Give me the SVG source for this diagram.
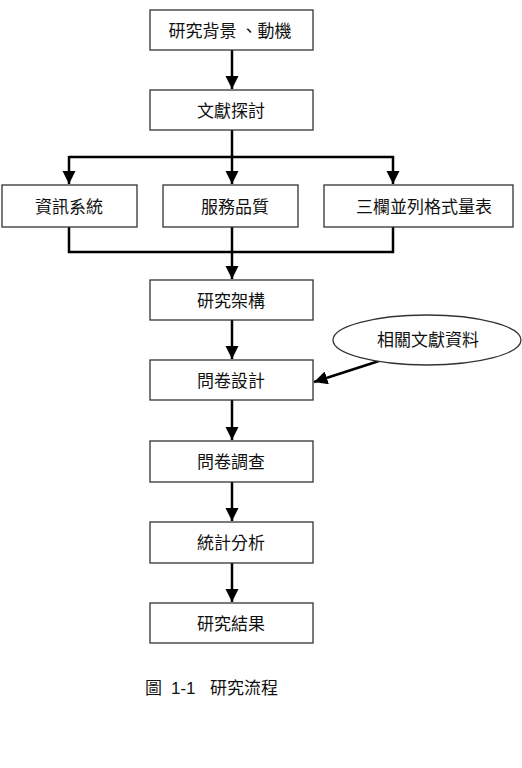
<svg xmlns="http://www.w3.org/2000/svg" width="522" height="768" viewBox="0 0 522 768">
<style>
.box{fill:#fff;stroke:#333;stroke-width:1.3}
.t{font-family:"Noto Sans CJK TC","Noto Sans CJK SC",sans-serif;font-size:17px;fill:#111;text-anchor:middle}
.ln{fill:none;stroke:#000;stroke-width:2.5}
</style>
<defs>
<marker id="ah" viewBox="0 0 10 10" refX="10" refY="5" markerWidth="5.4" markerHeight="5.4" markerUnits="strokeWidth" orient="auto">
<path d="M0,0 L10,5 L0,10 Z" fill="#000"/>
</marker>
</defs>
<rect width="522" height="768" fill="#fff"/>
<g id="connectors">
<line class="ln" x1="232" y1="50" x2="232" y2="89" marker-end="url(#ah)"/>
<line class="ln" x1="232" y1="130" x2="232" y2="157"/>
<polyline class="ln" points="69,157 393,157 393,184" marker-end="url(#ah)"/>
<line class="ln" x1="69" y1="156" x2="69" y2="184" marker-end="url(#ah)"/>
<line class="ln" x1="232" y1="157" x2="232" y2="184" marker-end="url(#ah)"/>
<polyline class="ln" points="69,227 69,252 393,252 393,227"/>
<line class="ln" x1="232" y1="227" x2="232" y2="279" marker-end="url(#ah)"/>
<line class="ln" x1="232" y1="320" x2="232" y2="359" marker-end="url(#ah)"/>
<line class="ln" x1="232" y1="400" x2="232" y2="440" marker-end="url(#ah)"/>
<line class="ln" x1="232" y1="482" x2="232" y2="521" marker-end="url(#ah)"/>
<line class="ln" x1="232" y1="563" x2="232" y2="602" marker-end="url(#ah)"/>
<line class="ln" x1="379" y1="361" x2="314" y2="382" marker-end="url(#ah)"/>
</g>
<g id="n1"><rect class="box" x="150" y="10" width="163" height="40"/><text class="t" x="230" y="37">研究背景 、動機</text></g>
<g id="n2"><rect class="box" x="150" y="90" width="163" height="40"/><text class="t" x="231" y="117">文獻探討</text></g>
<g id="n3"><rect class="box" x="2" y="185" width="135" height="42"/><text class="t" x="69" y="213">資訊系統</text></g>
<g id="n4"><rect class="box" x="163" y="185" width="135" height="42"/><text class="t" x="235" y="213">服務品質</text></g>
<g id="n5"><rect class="box" x="324" y="185" width="189" height="42"/><text class="t" x="424" y="213">三欄並列格式量表</text></g>
<g id="n6"><rect class="box" x="150" y="280" width="163" height="40"/><text class="t" x="231" y="307">研究架構</text></g>
<g id="n7"><ellipse class="box" cx="427" cy="340" rx="94" ry="25"/><text class="t" x="428" y="346">相關文獻資料</text></g>
<g id="n8"><rect class="box" x="150" y="360" width="163" height="40"/><text class="t" x="231" y="387">問卷設計</text></g>
<g id="n9"><rect class="box" x="150" y="441" width="163" height="41"/><text class="t" x="231" y="468">問卷調查</text></g>
<g id="n10"><rect class="box" x="150" y="522" width="163" height="41"/><text class="t" x="231" y="549">統計分析</text></g>
<g id="n11"><rect class="box" x="150" y="603" width="163" height="40"/><text class="t" x="231" y="630">研究結果</text></g>
<g id="caption"><text class="t" style="text-anchor:start" y="694"><tspan x="145">圖</tspan><tspan x="171" font-family="Liberation Sans, sans-serif">1-1</tspan><tspan x="210">研究流程</tspan></text></g>
</svg>
